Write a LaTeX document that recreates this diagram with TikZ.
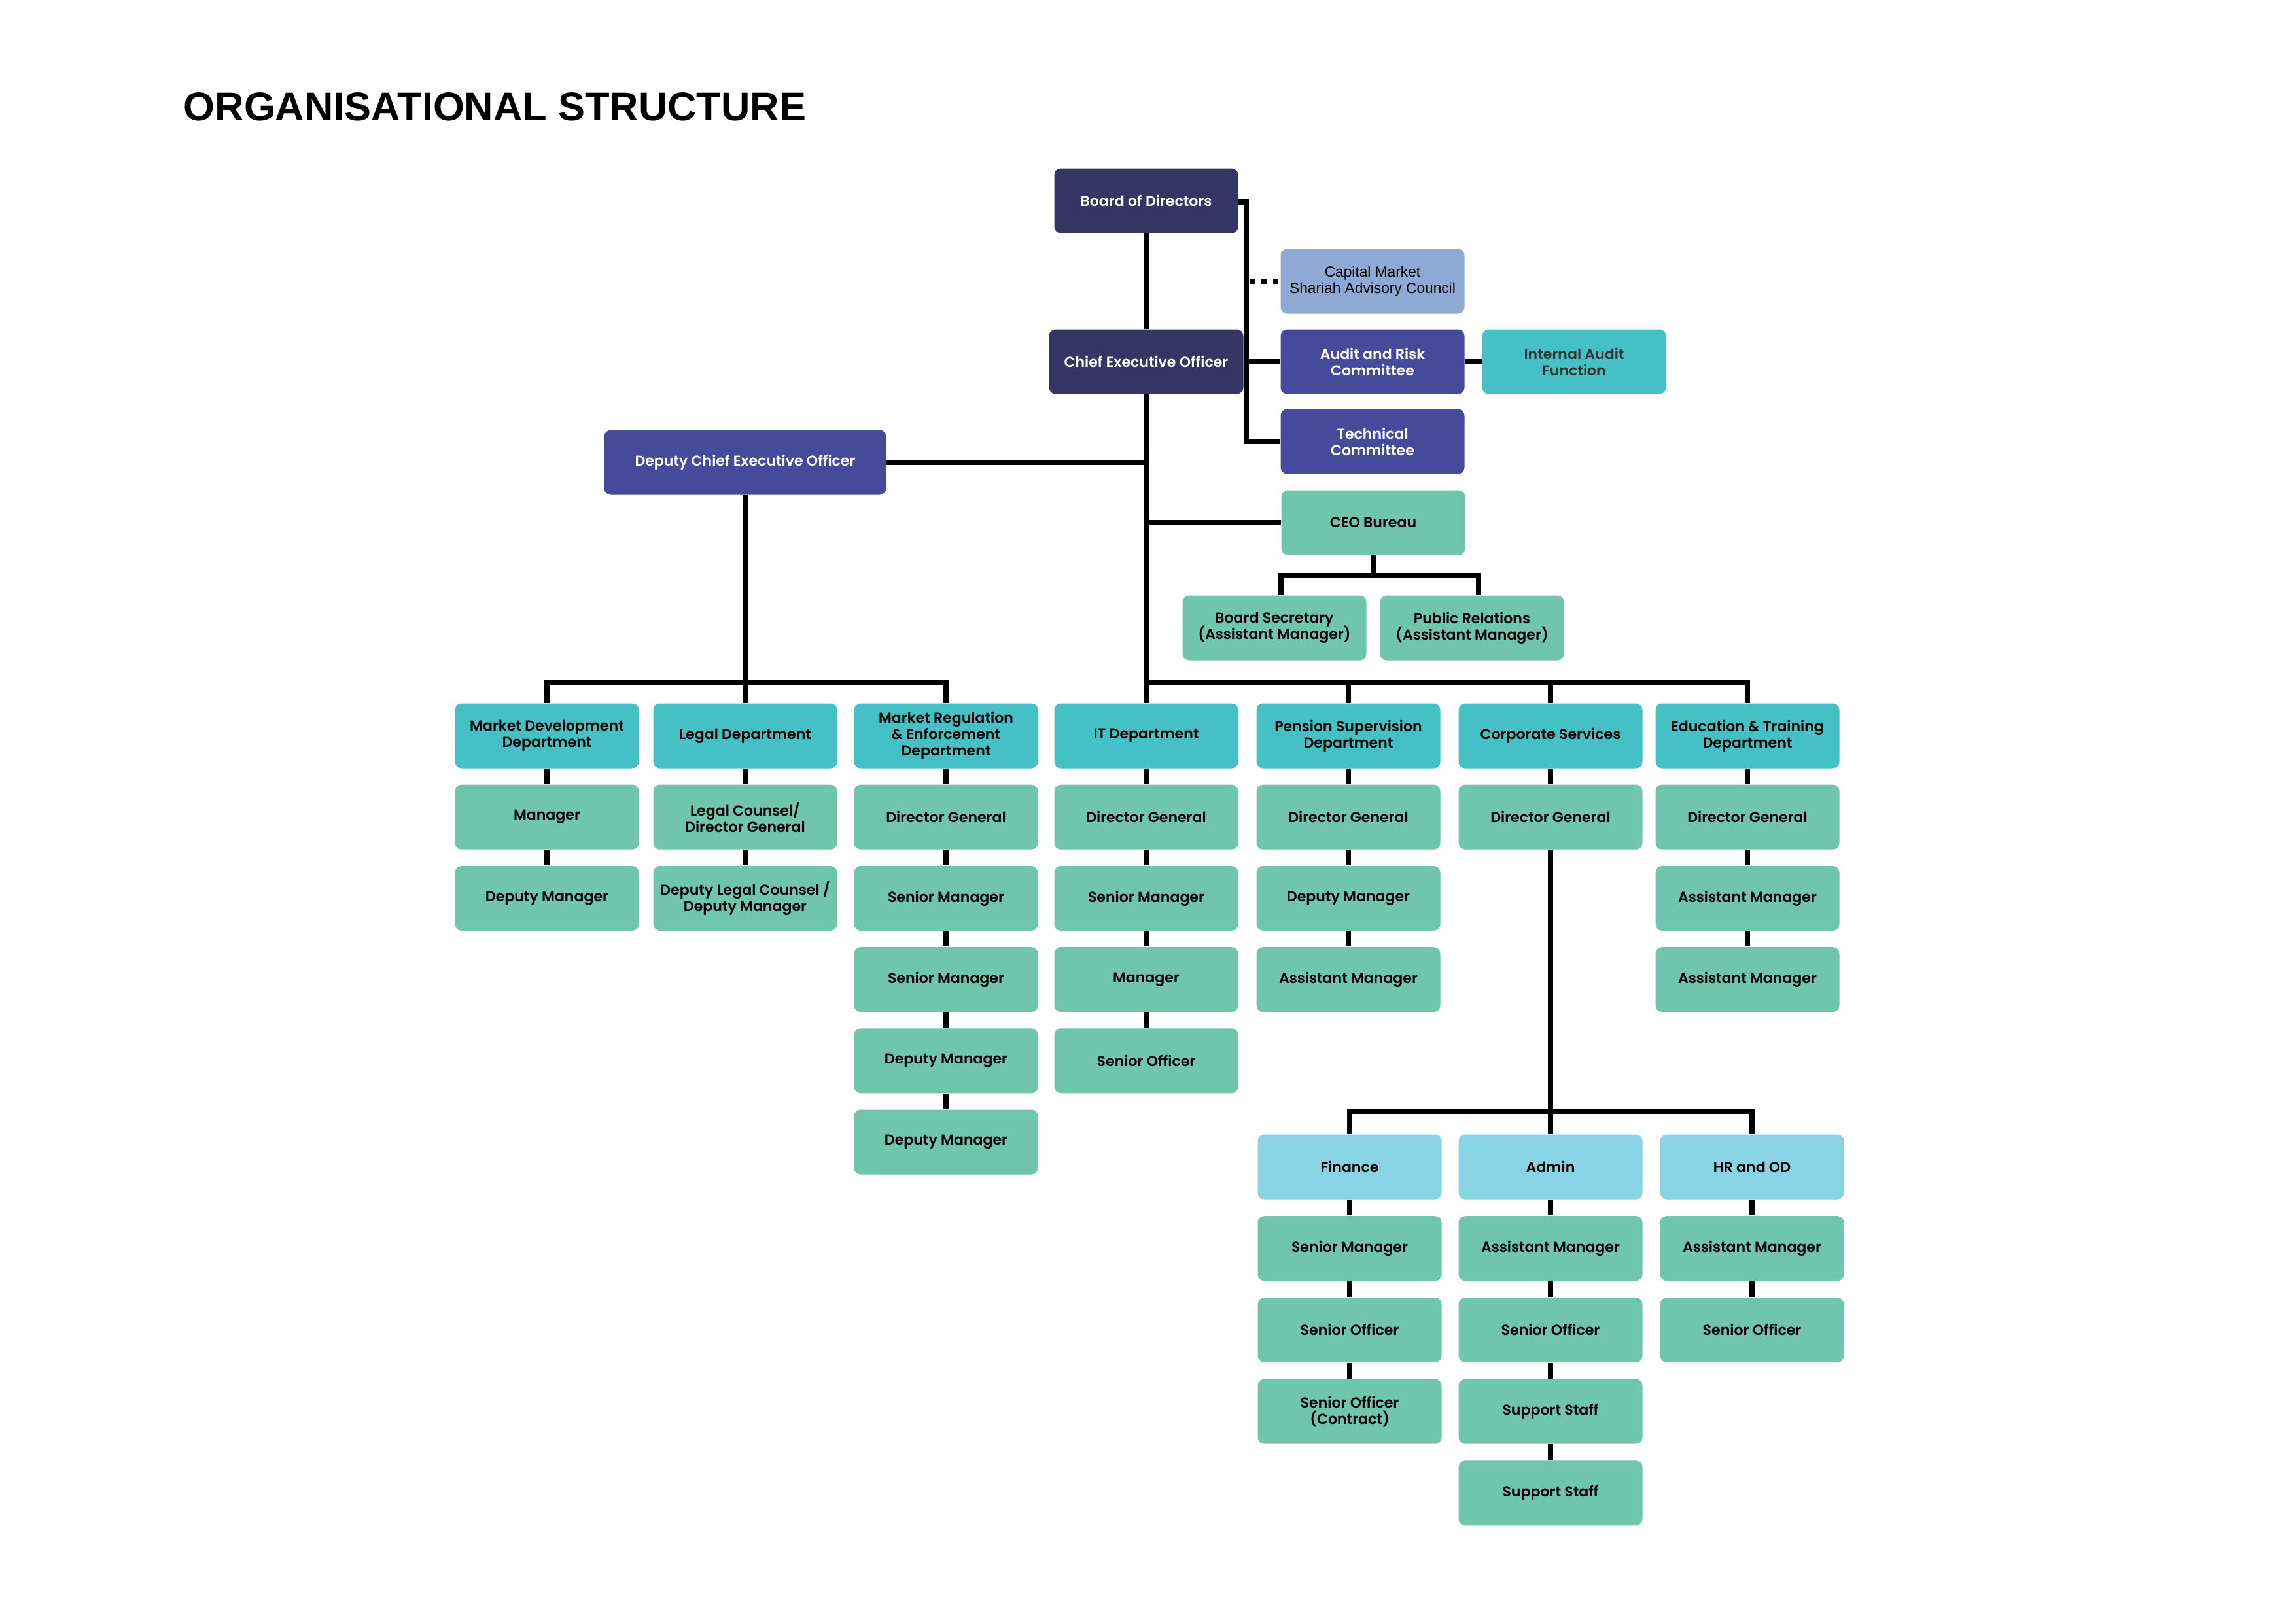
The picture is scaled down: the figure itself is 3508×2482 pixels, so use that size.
\documentclass[tikz,border=0pt]{standalone}
\usepackage{fontspec}
\setmainfont{Poppins}[UprightFont=* SemiBold,BoldFont=* Bold]
\newfontfamily\titlefont{Liberation Sans}
\newfontfamily\capfont{Liberation Sans}
\newcommand{\tightlines}{\setlength{\lineskiplimit}{-5pt}\setlength{\lineskip}{0pt}}
\definecolor{navy}{RGB}{55,53,100}
\definecolor{indigo}{RGB}{70,74,155}
\definecolor{capblue}{RGB}{141,169,212}
\definecolor{teal}{RGB}{69,192,196}
\definecolor{green}{RGB}{112,197,173}
\definecolor{lblue}{RGB}{136,212,228}
\definecolor{darktext}{RGB}{51,51,51}
\tikzset{
  box/.style={rounded corners=2.4pt, inner sep=0pt, minimum width=67.44pt, minimum height=23.76pt,
    align=center, font=\fontsize{5.3}{6}\selectfont\tightlines, text=black},
  navybox/.style={box, fill=navy, text=white},
  indigobox/.style={box, fill=indigo, text=white},
  capbox/.style={box, fill=capblue, text=black, font=\capfont\fontsize{5.45}{6.15}\selectfont\tightlines},
  deptbox/.style={box, fill=teal},
  posbox/.style={box, fill=green},
  subbox/.style={box, fill=lblue},
  conn/.style={draw=black, line width=1.8pt},
  dotconn/.style={draw=black, line width=1.8pt, dash pattern=on 1.92pt off 2.4pt},
}
\begin{document}
\begin{tikzpicture}[x=0.24pt,y=-0.24pt]
\useasboundingbox (0,0) rectangle (3508,2482);
\fill[white] (0,0) rectangle (3508,2482);

% title
\node[anchor=base west, inner sep=0pt, font=\titlefont\bfseries\fontsize{14.75}{16}\selectfont] (title) at (280,184) {ORGANISATIONAL STRUCTURE};

% top
\node[navybox] (board) at (1752,307) {Board of Directors};
\node[navybox, minimum width=71.28pt] (ceo) at (1752,553) {Chief Executive Officer};
\node[capbox] (cap) at (2098,430) {Capital Market\\Shariah Advisory Council};
\node[indigobox] (audit) at (2098,553) {Audit and Risk\\Committee};
\node[deptbox, text=darktext] (ia) at (2406,553) {Internal Audit\\Function};
\node[indigobox] (tech) at (2098,675) {Technical\\Committee};
\node[posbox] (bureau) at (2099,799) {CEO Bureau};
\node[indigobox, minimum width=103.44pt] (dceo) at (1139,707) {Deputy Chief Executive Officer};
\node[posbox] (bsec) at (1948,960) {Board Secretary\\(Assistant Manager)};
\node[posbox] (pr) at (2250,960) {Public Relations\\(Assistant Manager)};

% column 1: Market Development
\node[deptbox] (md0) at (836,1125) {Market Development\\Department};
\node[posbox] (md1) at (836,1249.2) {Manager};
\node[posbox] (md2) at (836,1373.4) {Deputy Manager};
% column 2: Legal
\node[deptbox] (lg0) at (1139,1125) {Legal Department};
\node[posbox] (lg1) at (1139,1249.2) {Legal Counsel/\\Director General};
\node[posbox] (lg2) at (1139,1373.4) {Deputy Legal Counsel /\\Deputy Manager};
% column 3: Market Regulation
\node[deptbox] (mr0) at (1446,1125) {Market Regulation\\\& Enforcement\\Department};
\node[posbox] (mr1) at (1446,1249.2) {Director General};
\node[posbox] (mr2) at (1446,1373.4) {Senior Manager};
\node[posbox] (mr3) at (1446,1497.6) {Senior Manager};
\node[posbox] (mr4) at (1446,1621.8) {Deputy Manager};
\node[posbox] (mr5) at (1446,1746) {Deputy Manager};
% column 4: IT
\node[deptbox] (it0) at (1752,1125) {IT Department};
\node[posbox] (it1) at (1752,1249.2) {Director General};
\node[posbox] (it2) at (1752,1373.4) {Senior Manager};
\node[posbox] (it3) at (1752,1497.6) {Manager};
\node[posbox] (it4) at (1752,1621.8) {Senior Officer};
% column 5: Pension
\node[deptbox] (ps0) at (2061,1125) {Pension Supervision\\Department};
\node[posbox] (ps1) at (2061,1249.2) {Director General};
\node[posbox] (ps2) at (2061,1373.4) {Deputy Manager};
\node[posbox] (ps3) at (2061,1497.6) {Assistant Manager};
% column 6: Corporate
\node[deptbox] (cs0) at (2370,1125) {Corporate Services};
\node[posbox] (cs1) at (2370,1249.2) {Director General};
% column 7: Education
\node[deptbox] (et0) at (2671,1125) {Education \& Training\\Department};
\node[posbox] (et1) at (2671,1249.2) {Director General};
\node[posbox] (et2) at (2671,1373.4) {Assistant Manager};
\node[posbox] (et3) at (2671,1497.6) {Assistant Manager};

% lower: Finance
\node[subbox] (fi0) at (2063,1784) {Finance};
\node[posbox] (fi1) at (2063,1908.7) {Senior Manager};
\node[posbox] (fi2) at (2063,2033.4) {Senior Officer};
\node[posbox] (fi3) at (2063,2158.1) {Senior Officer\\(Contract)};
% Admin
\node[subbox] (ad0) at (2370,1784) {Admin};
\node[posbox] (ad1) at (2370,1908.7) {Assistant Manager};
\node[posbox] (ad2) at (2370,2033.4) {Senior Officer};
\node[posbox] (ad3) at (2370,2158.1) {Support Staff};
\node[posbox] (ad4) at (2370,2282.8) {Support Staff};
% HR
\node[subbox] (hr0) at (2678,1784) {HR and OD};
\node[posbox] (hr1) at (2678,1908.7) {Assistant Manager};
\node[posbox] (hr2) at (2678,2033.4) {Senior Officer};

% helper coordinates
\coordinate (bx) at (1905,309);
\coordinate (dx) at (1910,430);
\coordinate (bbus) at (2099,880);
\coordinate (lbus) at (1139,1044);
\coordinate (rbus) at (1752,1044);
\coordinate (cbus) at (2370,1700);

% connectors top
\draw[conn] (board) -- (ceo);
\draw[conn] (ceo) -- (it0);
\draw[conn] (board.east |- bx) -- (bx) |- (tech.west);
\draw[conn] (audit.west) -- (audit.west -| bx);
\draw[dotconn] (dx) -- (cap.west);
\draw[conn] (audit) -- (ia);
\draw[conn] (dceo.east) -- (dceo.east -| ceo.south);
\draw[conn] (bureau.west) -- (bureau.west -| ceo.south);
\draw[conn] (bureau) -- (bbus);
\draw[conn] ([xshift=2.4pt]bsec.north) |- (bbus) -| ([xshift=2.4pt]pr.north);

% left bus
\draw[conn] (dceo) -- (lbus);
\draw[conn] (md0.north) |- (lbus) -| (mr0.north);
\draw[conn] (lbus) -- (lg0);
% right bus
\draw[conn] (rbus) -| (et0.north);
\draw[conn] (ps0.north) -- (ps0.north |- rbus);
\draw[conn] (cs0.north) -- (cs0.north |- rbus);

% column chains
\foreach \a/\b in {md0/md1,md1/md2,lg0/lg1,lg1/lg2,mr0/mr1,mr1/mr2,mr2/mr3,mr3/mr4,mr4/mr5,
  it0/it1,it1/it2,it2/it3,it3/it4,ps0/ps1,ps1/ps2,ps2/ps3,cs0/cs1,et0/et1,et1/et2,et2/et3,
  fi0/fi1,fi1/fi2,fi2/fi3,ad0/ad1,ad1/ad2,ad2/ad3,ad3/ad4,hr0/hr1,hr1/hr2}
  \draw[conn] (\a) -- (\b);

% corporate sub-bus
\draw[conn] (cs1) -- (cbus);
\draw[conn] (fi0.north) |- (cbus) -| (hr0.north);
\draw[conn] (ad0.north) -- (ad0.north |- cbus);
\end{tikzpicture}
\end{document}
